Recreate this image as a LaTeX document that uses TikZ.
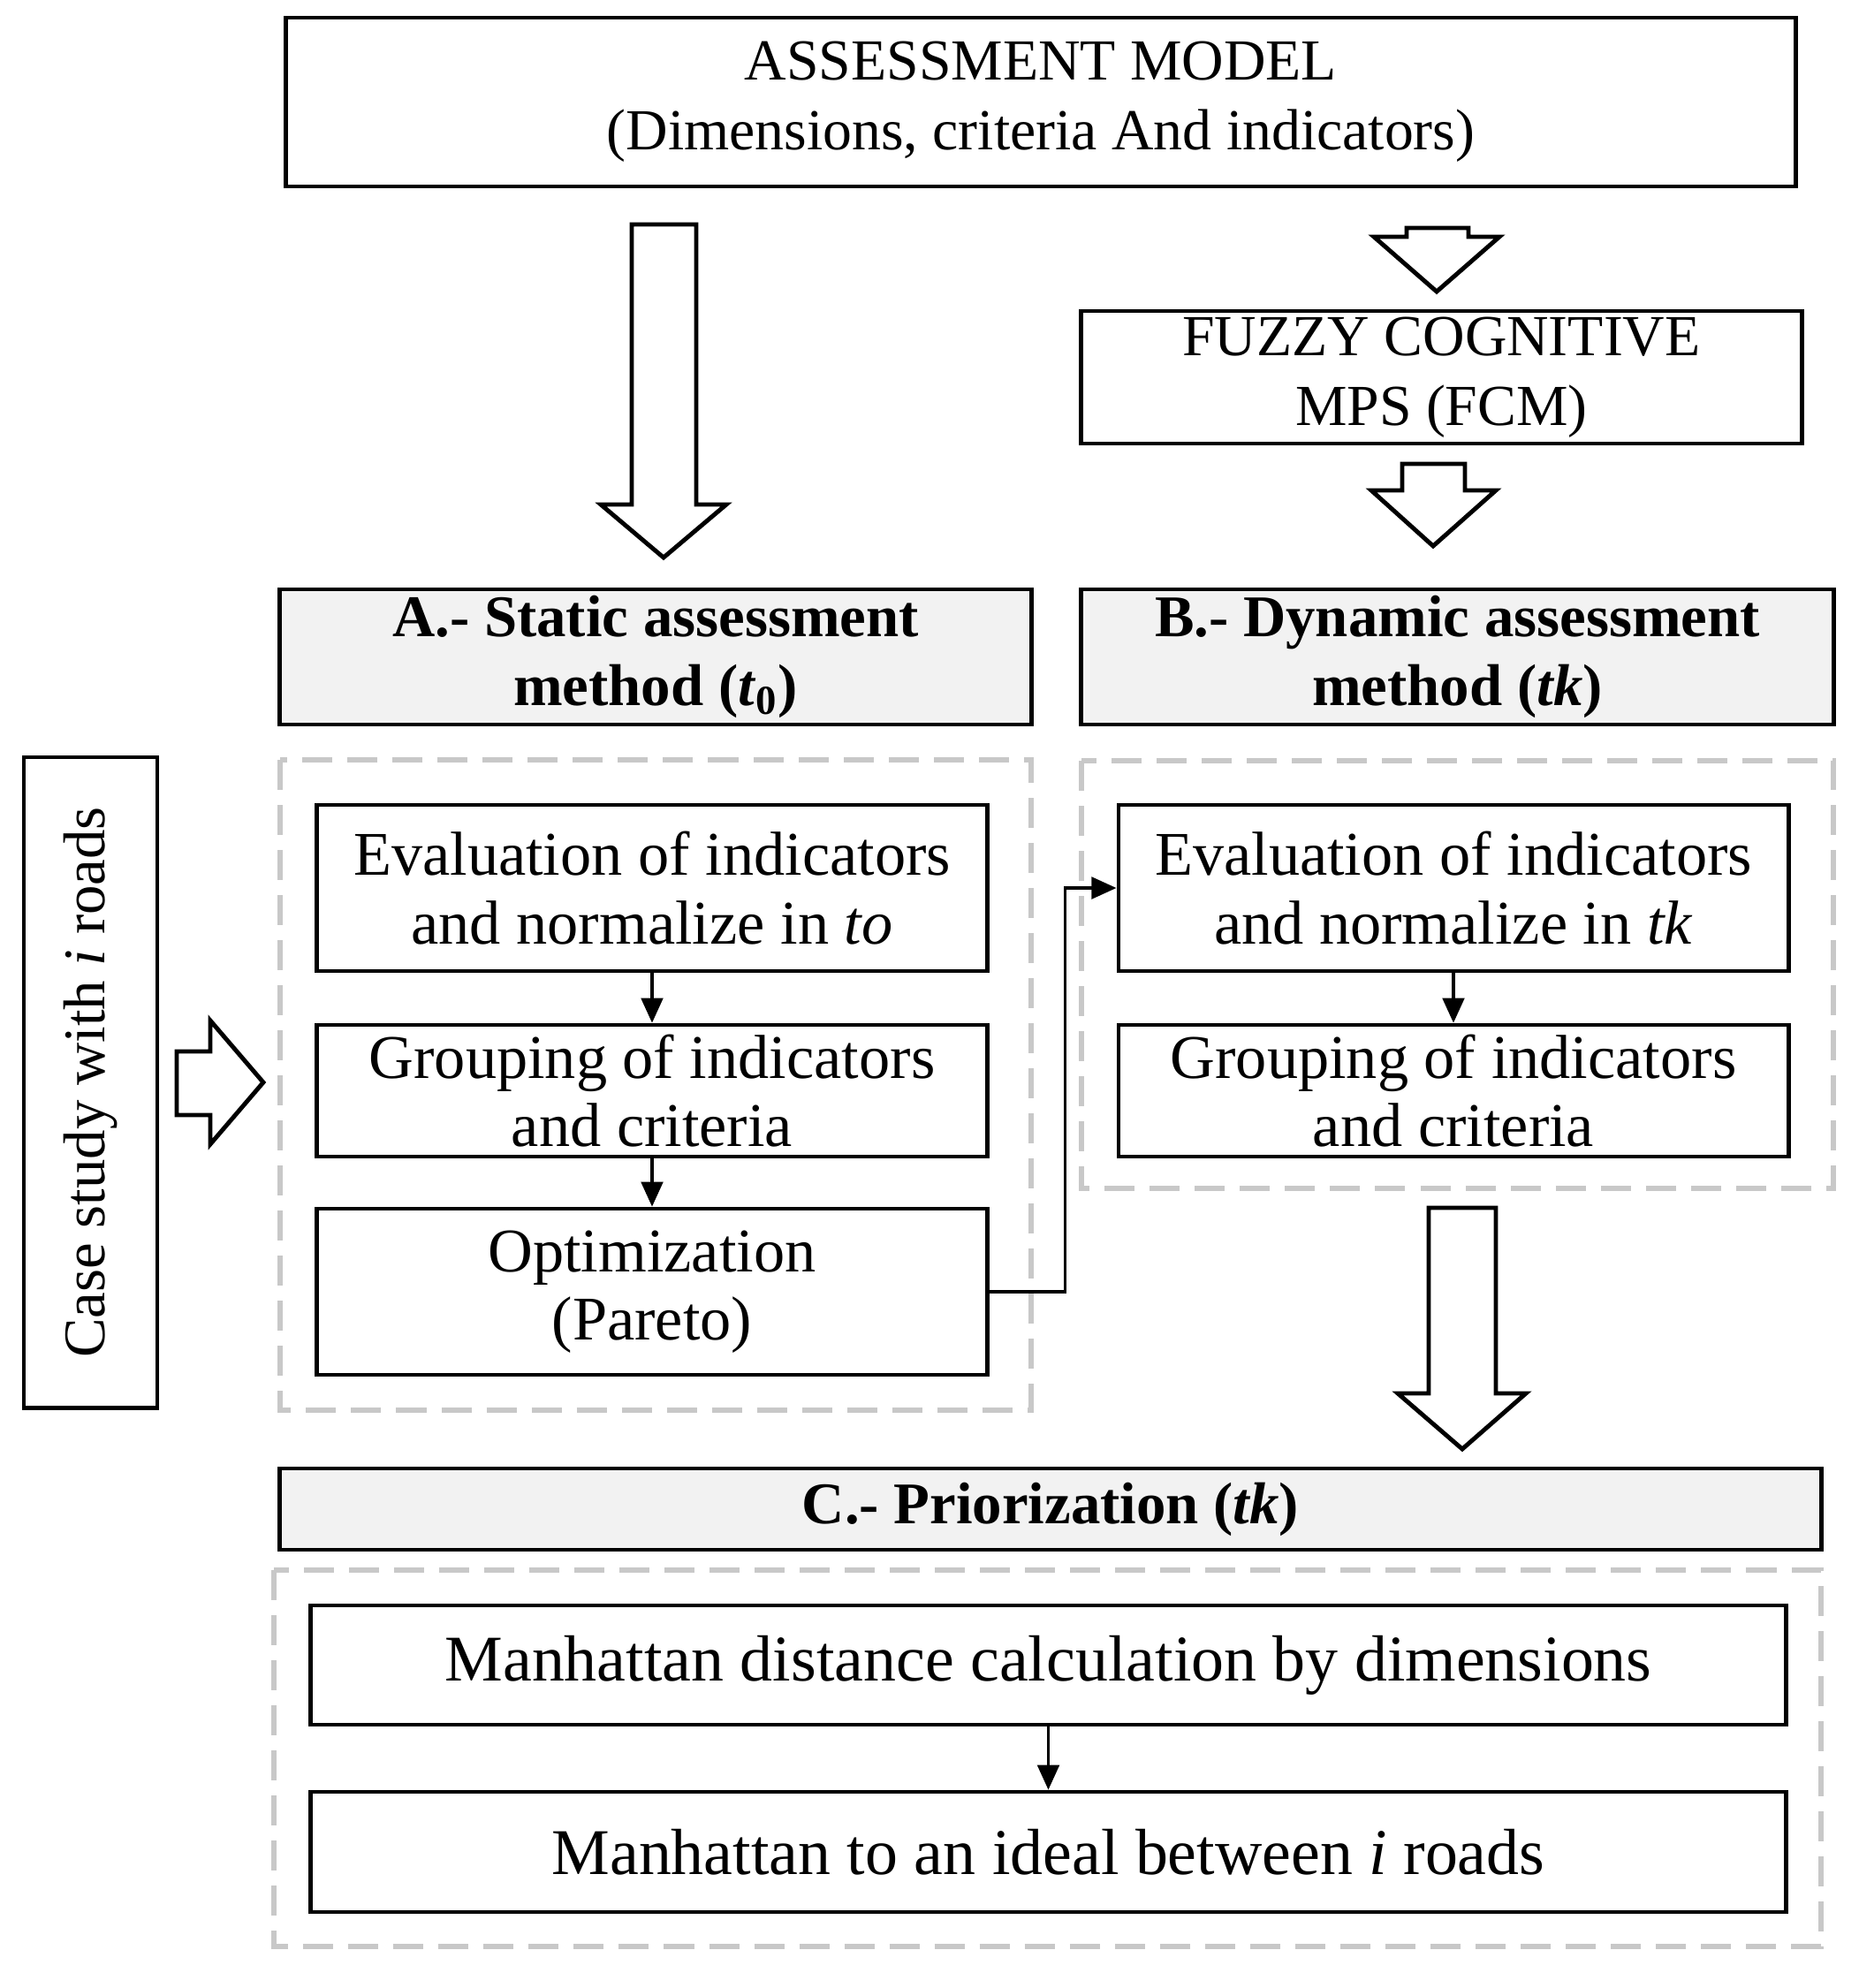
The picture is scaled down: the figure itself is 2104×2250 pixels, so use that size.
\documentclass[tikz,border=0pt]{standalone}
\usepackage{fontspec}
\setmainfont{Liberation Serif}
\usetikzlibrary{arrows.meta,positioning}
\definecolor{headgray}{RGB}{242,242,242}
\definecolor{dashgray}{RGB}{200,200,200}

\begin{document}
\begin{tikzpicture}[x=0.01cm, y=-0.01cm, >={Triangle[length=8pt,width=7pt]}]
    \tikzstyle{box} = [draw, line width=1.3pt, align=center, inner sep=1pt, font=\fontsize{20}{22}\selectfont]
    \tikzstyle{head} = [box, fill=headgray, font=\fontsize{19}{22}\selectfont\bfseries]
    \tikzstyle{group box} = [draw=dashgray, line width=1.6pt, dash pattern=on 0.34cm off 0.17cm]
    \tikzstyle{fat arrow} = [draw, line width=1.4pt, fill=white, line join=miter]
    \tikzstyle{conn} = [->, line width=1pt]
    \useasboundingbox (0,0) rectangle (2104,2250);

    % model and FCM
    \node[box, minimum width=17.08cm, minimum height=1.91cm, font=\fontsize{18.7}{22.4}\selectfont] (model) at (1178,115.5) {ASSESSMENT MODEL\\(Dimensions, criteria And indicators)};
    \node[box, minimum width=8.15cm, minimum height=1.5cm, font=\fontsize{18.7}{22.4}\selectfont] (fcm) at (1631.5,427) {FUZZY COGNITIVE\\MPS (FCM)};

    % headers
    \node[head, minimum width=8.5cm, minimum height=1.53cm] (headA) at (742,743.5) {A.- Static assessment\\method (\textit{t}\textsubscript{0})};
    \node[head, minimum width=8.51cm, minimum height=1.53cm] (headB) at (1649.5,743.5) {B.- Dynamic assessment\\method (\textit{tk})};
    \node[head, minimum width=17.44cm, minimum height=0.92cm] (headC) at (1189,1708) {C.- Priorization (\textit{tk})};

    % dashed groups
    \draw[group box] (317,860) rectangle (1167,1596);
    \draw[group box] (1224,861) rectangle (2075,1345);
    \draw[group box] (310,1777) rectangle (2061,2203);

    % case study
    \node[box, minimum width=1.51cm, minimum height=7.36cm] (case) at (102.5,1225) {};
    \node[rotate=90, font=\fontsize{19}{22}\selectfont] (caselabel) at (case.center) {Case study with \textit{i} roads};

    % static method
    \node[box, minimum width=7.58cm, minimum height=1.88cm] (evalA) at (738,1005) {Evaluation of indicators\\and normalize in \textit{to}};
    \node[box, minimum width=7.58cm, minimum height=1.49cm] (groupA) at (738,1234.5) {Grouping of indicators\\and criteria};
    \node[box, minimum width=7.58cm, minimum height=1.88cm] (opt) at (738,1462) {Optimization\\(Pareto)};

    % dynamic method
    \node[box, minimum width=7.58cm, minimum height=1.88cm] (evalB) at (1645,1005) {Evaluation of indicators\\and normalize in \textit{tk}};
    \node[box, minimum width=7.58cm, minimum height=1.49cm] (groupB) at (1645,1234.5) {Grouping of indicators\\and criteria};

    % priorization
    \node[box, minimum width=16.69cm, minimum height=1.35cm, font=\fontsize{21}{24}\selectfont] (manh1) at (1186.5,1884.5) {Manhattan distance calculation by dimensions};
    \node[box, minimum width=16.69cm, minimum height=1.36cm, font=\fontsize{21}{24}\selectfont] (manh2) at (1186.5,2096) {Manhattan to an ideal between \textit{i} roads};

    % connectors
    \draw[conn] (evalA) -- (groupA);
    \draw[conn] (groupA) -- (opt);
    \draw[conn] (evalB) -- (groupB);
    \draw[conn] (manh1) -- (manh2);
    \draw[conn] (opt.east) -- ++(86,0) |- (evalB.west);

    % block arrows
    \draw[fat arrow] (715,254) -- (788,254) -- (788,571) -- (822,571) -- (751,631) -- (680,571) -- (715,571) -- cycle;
    \draw[fat arrow] (1592,258) -- (1662,258) -- (1662,268) -- (1697,268) -- (1626,330) -- (1555,268) -- (1592,268) -- cycle;
    \draw[fat arrow] (1587,525) -- (1658,525) -- (1658,555) -- (1693,555) -- (1622,618) -- (1552,555) -- (1587,555) -- cycle;
    \draw[fat arrow] (1617,1367) -- (1693,1367) -- (1693,1577) -- (1727,1577) -- (1655,1640) -- (1582,1577) -- (1617,1577) -- cycle;
    \draw[fat arrow] (200,1190) -- (238,1190) -- (238,1155) -- (298,1225) -- (238,1295) -- (238,1262) -- (200,1262) -- cycle;
\end{tikzpicture}
\end{document}
